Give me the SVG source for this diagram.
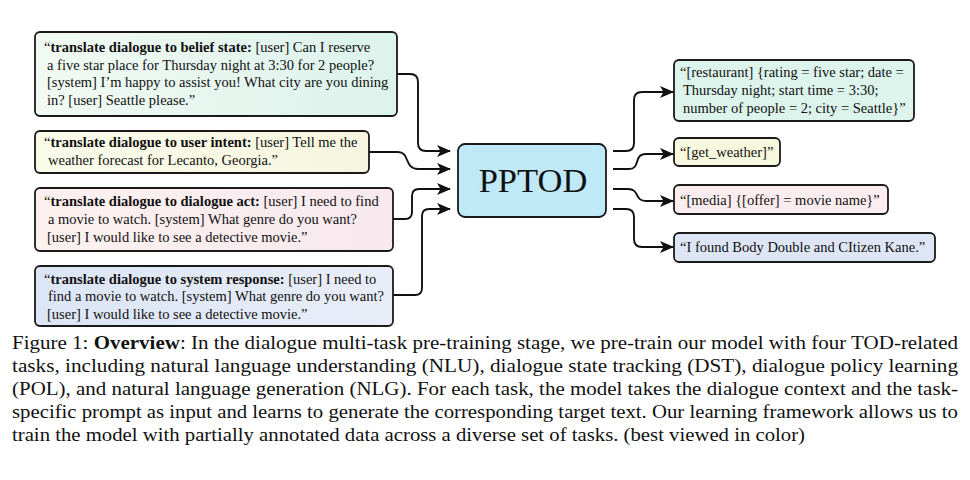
<svg xmlns="http://www.w3.org/2000/svg" width="970" height="480" viewBox="0 0 970 480">
<style>
.box{stroke:#1a1a1a;stroke-width:1.8}
.t{font-family:"Liberation Serif","Times New Roman",serif;font-size:14.5px;fill:#111}
.b{font-weight:bold}
.cap{font-family:"Liberation Serif","Times New Roman",serif;font-size:19px;fill:#111}
.conn path{fill:none;stroke:#111;stroke-width:1.9;marker-end:url(#arr)}
</style>
<defs>
<marker id="arr" viewBox="0 0 14 12" refX="13" refY="6" markerWidth="14" markerHeight="12" markerUnits="userSpaceOnUse" orient="auto">
<path d="M0,0 L14,6 L0,12 L3.5,6 z" fill="#111"/>
</marker>
<linearGradient id="gG" x1="0" y1="0" x2="1" y2="0"><stop offset="0" stop-color="#f1faf3"/><stop offset="1" stop-color="#dcf3ec"/></linearGradient>
<linearGradient id="gY" x1="0" y1="0" x2="1" y2="0"><stop offset="0" stop-color="#fbfbea"/><stop offset="1" stop-color="#f6f6e0"/></linearGradient>
<linearGradient id="gP" x1="0" y1="0" x2="1" y2="0"><stop offset="0" stop-color="#fdf1f0"/><stop offset="1" stop-color="#f7e9ee"/></linearGradient>
<linearGradient id="gB" x1="0" y1="0" x2="1" y2="0"><stop offset="0" stop-color="#dce5f6"/><stop offset="1" stop-color="#e9edf8"/></linearGradient>
</defs>
<rect width="970" height="480" fill="#ffffff"/>

<g id="in-belief">
<rect class="box" x="35" y="32" width="362" height="84" rx="5" fill="url(#gG)"/>
<text class="t" x="44" y="52">“<tspan class="b">translate dialogue to belief state:</tspan> [user] Can I reserve</text>
<text class="t" x="47" y="69.5">a five star place for Thursday night at 3:30 for 2 people?</text>
<text class="t" x="47" y="87">[system] I’m happy to assist you! What city are you dining</text>
<text class="t" x="47" y="104.5">in? [user] Seattle please.”</text>
</g>

<g id="in-intent">
<rect class="box" x="35" y="131" width="334" height="42" rx="5" fill="url(#gY)"/>
<text class="t" x="44" y="147">“<tspan class="b">translate dialogue to user intent:</tspan> [user] Tell me the</text>
<text class="t" x="48" y="165">weather forecast for Lecanto, Georgia.”</text>
</g>

<g id="in-act">
<rect class="box" x="35" y="188" width="358" height="63" rx="5" fill="url(#gP)"/>
<text class="t" x="44" y="206">“<tspan class="b">translate dialogue to dialogue act:</tspan> [user] I need to find</text>
<text class="t" x="48" y="224">a movie to watch. [system] What genre do you want?</text>
<text class="t" x="47" y="242">[user] I would like to see a detective movie.”</text>
</g>

<g id="in-response">
<rect class="box" x="35" y="266" width="358" height="60" rx="5" fill="url(#gB)"/>
<text class="t" x="44" y="283.5">“<tspan class="b">translate dialogue to system response:</tspan> [user] I need to</text>
<text class="t" x="48" y="301">find a movie to watch. [system] What genre do you want?</text>
<text class="t" x="47" y="318.5">[user] I would like to see a detective movie.”</text>
</g>

<g id="pptod">
<rect class="box" x="458" y="144" width="148" height="73" rx="7" fill="#bfe9f7"/>
<text x="533" y="192" text-anchor="middle" style="font-family:'Liberation Serif','Times New Roman',serif;font-size:34.5px;fill:#111">PPTOD</text>
</g>

<g id="out-belief">
<rect class="box" x="674" y="60" width="240" height="61" rx="5" fill="#dcf4ec"/>
<text class="t" x="680" y="77">“[restaurant] {rating = five star; date =</text>
<text class="t" x="683" y="95">Thursday night; start time = 3:30;</text>
<text class="t" x="683" y="112.5">number of people = 2; city = Seattle}”</text>
</g>

<g id="out-intent">
<rect class="box" x="674" y="138" width="106" height="28" rx="5" fill="#f8f8de"/>
<text class="t" x="680" y="157">“[get_weather]”</text>
</g>

<g id="out-act">
<rect class="box" x="674" y="185" width="214" height="29" rx="5" fill="#fbedef"/>
<text class="t" x="680" y="204.5">“[media] {[offer] = movie name}”</text>
</g>

<g id="out-response">
<rect class="box" x="674" y="233" width="261" height="29" rx="5" fill="#dee6f6"/>
<text class="t" x="680" y="252">“I found Body Double and CItizen Kane.”</text>
</g>

<g id="connectors" class="conn">
<path d="M397,74 H410 Q418,74 418,82 V143 Q418,151 426,151 H450"/>
<path d="M369,152 H398 C410,152 404,169 418,169 H450"/>
<path d="M393,219 H405 Q412,219 412,212 V196 Q412,189 419,189 H450"/>
<path d="M393,295 H415 Q422,295 422,288 V216 Q422,209 429,209 H450"/>
<path d="M613,151 H626 Q634,151 634,143 V100 Q634,92 642,92 H673"/>
<path d="M613,169 H629 C641,169 633,154 646,154 H673"/>
<path d="M613,189 H628 C640,189 634,201 646,201 H673"/>
<path d="M613,209 H626 Q634,209 634,217 V239 Q634,247 642,247 H673"/>
</g>

<g id="caption">
<text class="cap" x="12" y="349" textLength="946" lengthAdjust="spacingAndGlyphs">Figure 1: <tspan font-weight="bold">Overview</tspan>: In the dialogue multi-task pre-training stage, we pre-train our model with four TOD-related</text>
<text class="cap" x="12" y="372" textLength="946" lengthAdjust="spacingAndGlyphs">tasks, including natural language understanding (NLU), dialogue state tracking (DST), dialogue policy learning</text>
<text class="cap" x="12" y="395" textLength="946" lengthAdjust="spacingAndGlyphs">(POL), and natural language generation (NLG). For each task, the model takes the dialogue context and the task-</text>
<text class="cap" x="12" y="418" textLength="946" lengthAdjust="spacingAndGlyphs">specific prompt as input and learns to generate the corresponding target text. Our learning framework allows us to</text>
<text class="cap" x="12" y="441" textLength="793" lengthAdjust="spacingAndGlyphs">train the model with partially annotated data across a diverse set of tasks. (best viewed in color)</text>
</g>
</svg>
